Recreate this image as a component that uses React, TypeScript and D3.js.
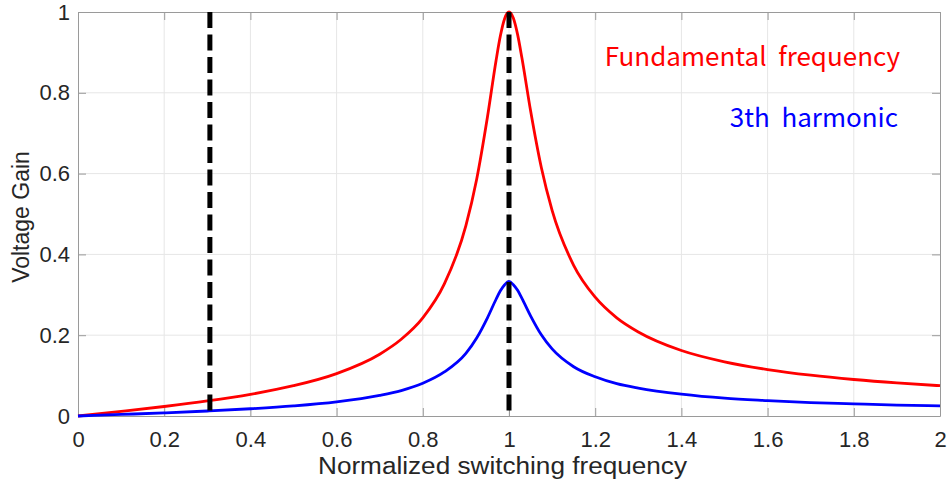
import React, { useEffect, useRef } from 'react';
import * as d3 from 'd3';

// normalized switching frequency samples
const freq = [0, 0.1, 0.2, 0.3, 0.4, 0.5, 0.6, 0.7, 0.75, 0.8, 0.85, 0.9, 0.925, 0.95, 0.97, 0.98, 0.99, 1,
  1.01, 1.02, 1.03, 1.05, 1.075, 1.1, 1.15, 1.2, 1.25, 1.3, 1.4, 1.5, 1.6, 1.7, 1.8, 1.9, 2];
const fundamental = [0, 0.0114, 0.0235, 0.0372, 0.0536, 0.075, 0.105, 0.153, 0.19, 0.243, 0.327, 0.471, 0.586, 0.74, 0.88, 0.941, 0.984, 1,
  0.985, 0.944, 0.886, 0.756, 0.615, 0.509, 0.373, 0.294, 0.243, 0.208, 0.162, 0.134, 0.115, 0.101, 0.0903, 0.0818, 0.075];
const harmonic3 = [0, 0.0038, 0.0078, 0.0124, 0.0179, 0.025, 0.035, 0.051, 0.063, 0.081, 0.109, 0.155, 0.193, 0.243, 0.289, 0.31, 0.325, 0.333,
  0.325, 0.311, 0.291, 0.248, 0.201, 0.166, 0.122, 0.097, 0.08, 0.069, 0.054, 0.044, 0.038, 0.033, 0.03, 0.027, 0.025];
const markers = [0.306, 1];
const xTicks = [0, 0.2, 0.4, 0.6, 0.8, 1, 1.2, 1.4, 1.6, 1.8, 2];
const yTicks = [0, 0.2, 0.4, 0.6, 0.8, 1];

const Chart = () => {
  const svgRef = useRef<SVGSVGElement>(null);

  useEffect(() => {
    const margin = { top: 12, right: 9, bottom: 72, left: 78 };
    const W = 949, H = 488;
    const width = W - margin.left - margin.right;
    const height = H - margin.top - margin.bottom;

    const root = d3.select(svgRef.current).attr('width', W).attr('height', H);
    root.selectAll('*').remove();
    const svg = root.append('g').attr('transform', `translate(${margin.left},${margin.top})`);

    const x = d3.scaleLinear().domain([0, 2]).range([0, width]);
    const y = d3.scaleLinear().domain([0, 1]).range([height, 0]);

    // grid
    svg.append('g').selectAll('line').data(xTicks.slice(1, -1)).enter().append('line')
      .attr('x1', d => x(d)).attr('x2', d => x(d)).attr('y1', 0).attr('y2', height)
      .attr('stroke', '#e6e6e6').attr('stroke-width', 1);
    svg.append('g').selectAll('line').data(yTicks.slice(1, -1)).enter().append('line')
      .attr('y1', d => y(d)).attr('y2', d => y(d)).attr('x1', 0).attr('x2', width)
      .attr('stroke', '#e6e6e6').attr('stroke-width', 1);

    const fontAx = '"Liberation Sans", Arial, sans-serif';

    // axes with inward ticks, box on
    const bottom = svg.append('g').attr('transform', `translate(0,${height})`)
      .call(d3.axisBottom(x).tickValues(xTicks).tickSizeInner(-8).tickSizeOuter(0).tickPadding(15).tickFormat(d3.format('')));
    const left = svg.append('g')
      .call(d3.axisLeft(y).tickValues(yTicks).tickSizeInner(-8).tickSizeOuter(0).tickPadding(8).tickFormat(d3.format('')));
    svg.append('g')
      .call(d3.axisTop(x).tickValues(xTicks).tickSizeInner(-8).tickSizeOuter(0).tickFormat(() => ''));
    svg.append('g').attr('transform', `translate(${width},0)`)
      .call(d3.axisRight(y).tickValues(yTicks).tickSizeInner(-8).tickSizeOuter(0).tickFormat(() => ''));

    svg.selectAll('.domain, .tick line').attr('stroke', '#9a9a9a');
    [bottom, left].forEach(a => a.selectAll('text')
      .attr('fill', '#262626').style('font-family', fontAx).style('font-size', '22px'));

    const line = d3.line<number>()
      .x((_, i) => x(freq[i]))
      .y(d => y(d))
      .curve(d3.curveMonotoneX);

    svg.append('path').datum(fundamental).attr('d', line)
      .attr('fill', 'none').attr('stroke', '#ff0000').attr('stroke-width', 2.8);
    svg.append('path').datum(harmonic3).attr('d', line)
      .attr('fill', 'none').attr('stroke', '#0000ff').attr('stroke-width', 2.8);

    // dashed markers
    svg.selectAll('.marker').data(markers).enter().append('line')
      .attr('class', 'marker')
      .attr('x1', d => x(d)).attr('x2', d => x(d))
      .attr('y1', y(1)).attr('y2', y(0))
      .attr('stroke', '#000').attr('stroke-width', 5).attr('stroke-dasharray', '16,6.5');

    const fontNote = '"Noto Sans CJK KR", "Noto Sans", sans-serif';
    svg.append('text').attr('x', 822).attr('y', 54).attr('text-anchor', 'end')
      .attr('fill', '#ff0000').style('font-family', fontNote).style('font-size', '26px')
      .style('white-space', 'pre')
      .text('Fundamental  frequency');
    svg.append('text').attr('x', 820).attr('y', 115).attr('text-anchor', 'end')
      .attr('fill', '#0000ff').style('font-family', fontNote).style('font-size', '26px')
      .style('white-space', 'pre')
      .text('3th  harmonic');

    root.append('text').attr('x', 318).attr('y', 474)
      .attr('textLength', 369).attr('lengthAdjust', 'spacingAndGlyphs')
      .attr('fill', '#262626').style('font-family', fontAx).style('font-size', '23px')
      .text('Normalized switching frequency');
    root.append('text').attr('transform', `translate(29,${margin.top + height / 2 + 3}) rotate(-90)`)
      .attr('text-anchor', 'middle').attr('fill', '#262626')
      .style('font-family', fontAx).style('font-size', '23px')
      .text('Voltage Gain');
  }, []);

  return <svg ref={svgRef} style={{ position: 'absolute', left: 0, top: 0, background: '#fff' }}></svg>;
};

export default function App() {
  return <Chart />;
}
